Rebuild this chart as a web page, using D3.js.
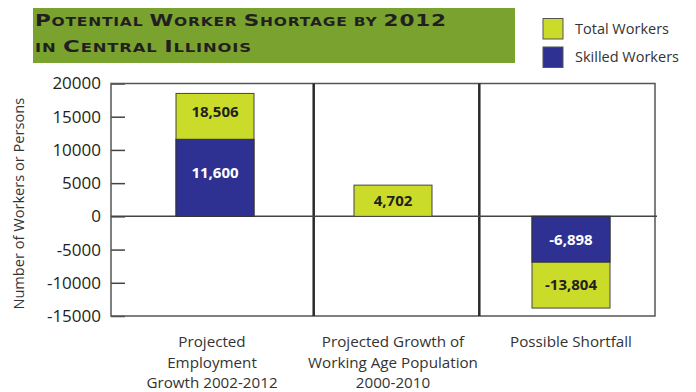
<!DOCTYPE html>
<html>
<head>
<meta charset="utf-8">
<script src="https://cdn.jsdelivr.net/npm/d3@7"></script>
<style>
  html, body { margin: 0; padding: 0; background: #fff; }
  svg { display: block; }
</style>
</head>
<body>
<svg id="chart" width="696" height="392"></svg>
<script>
// Chart data
const categories = ["employment", "population", "shortfall"];
const categoryLabels = [
  ["Projected", "Employment", "Growth 2002-2012"],
  ["Projected Growth of", "Working Age Population", "2000-2010"],
  ["Possible Shortfall"]
];
const totalWorkers = [18506, 4702, -13804];
const skilledWorkers = [11600, null, -6898];
const yTicks = [-15000, -10000, -5000, 0, 5000, 10000, 15000, 20000];
const seriesNames = ["Total Workers", "Skilled Workers"];
const titleLines = ["Potential Worker Shortage by 2012", "in Central Illinois"];
const yAxisTitle = "Number of Workers or Persons";

const colors = { total: "#cbdb2a", skilled: "#2e3192", band: "#79a22f" };
// plain hyphen for negatives
const locale = d3.formatLocale({ decimal: ".", thousands: ",", grouping: [3], currency: ["$", ""], minus: "-" });
const fmt = locale.format(",");
const fmtTick = locale.format("d");

const svg = d3.select("#chart");
const plot = { left: 111, right: 655, top: 83.5, bottom: 316 };
const sans = "'Open Sans', sans-serif";

const y = d3.scaleLinear().domain([-15000, 20000]).range([plot.bottom, plot.top]);
const x = d3.scalePoint().domain(categories).range([215, 571]);
const barW = 78;

// Title band with small-caps lettering
svg.append("rect").attr("x", 33).attr("y", 8).attr("width", 482).attr("height", 55)
  .attr("fill", colors.band);

const titleBig = 16.5;
const titleWidths = [412, 217];
const titleBase = [26.3, 51.7];
titleLines.forEach((line, i) => {
  const g = svg.append("g");
  const t = g.append("text")
    .attr("x", 0).attr("y", 0)
    .attr("font-family", "'DejaVu Sans', sans-serif").attr("font-weight", 700)
    .attr("letter-spacing", 0.6).attr("fill", "#231f20");
  const chunks = [];
  for (const ch of line) {
    const big = (ch === ch.toUpperCase() && ch !== ch.toLowerCase()) || /[0-9]/.test(ch);
    const last = chunks[chunks.length - 1];
    const kind = ch === " " ? (last ? last.big : true) : big;
    if (last && last.big === kind) last.s += ch; else chunks.push({ s: ch, big: kind });
  }
  chunks.forEach(c => {
    t.append("tspan")
      .attr("font-size", c.big ? titleBig : titleBig * 0.72)
      .text(c.s.toUpperCase());
  });
  // stretch horizontally to the extended lettering width
  const w = t.node().getComputedTextLength();
  g.attr("transform", `translate(35,${titleBase[i]}) scale(${titleWidths[i] / w},1)`);
});

// Legend
seriesNames.forEach((name, i) => {
  const ly = 18.5 + i * 28.5;
  svg.append("rect").attr("x", 543).attr("y", ly).attr("width", 20).attr("height", 20.5)
    .attr("fill", i === 0 ? colors.total : colors.skilled)
    .attr("stroke", "#555").attr("stroke-width", 1);
  svg.append("text").attr("x", 575).attr("y", ly + 15)
    .attr("font-family", sans).attr("font-size", 14.5)
    .attr("fill", "#333").text(name);
});

// Y axis with inward ticks
const yAxis = d3.axisLeft(y).tickValues(yTicks).tickSizeInner(-14).tickSizeOuter(0)
  .tickPadding(10).tickFormat(fmtTick);
const gAxis = svg.append("g").attr("transform", `translate(${plot.left},0)`).call(yAxis);
gAxis.select(".domain").remove();
gAxis.selectAll(".tick line").attr("stroke", "#444").attr("stroke-width", 1.5);
gAxis.selectAll(".tick text").attr("font-family", sans)
  .attr("font-size", 17).attr("fill", "#231f20");

svg.append("text")
  .attr("transform", `translate(24,${(plot.top + plot.bottom) / 2 + 4}) rotate(-90)`)
  .attr("text-anchor", "middle")
  .attr("font-family", sans).attr("font-size", 14.6)
  .attr("fill", "#333").text(yAxisTitle);

// Frame, panel dividers and zero line
svg.append("rect").attr("x", plot.left).attr("y", plot.top)
  .attr("width", plot.right - plot.left).attr("height", plot.bottom - plot.top)
  .attr("fill", "none").attr("stroke", "#555").attr("stroke-width", 1.5);
const dividers = [313.7, 479.3];
svg.selectAll(".divider").data(dividers).join("line")
  .attr("x1", d => d).attr("x2", d => d)
  .attr("y1", plot.top).attr("y2", plot.bottom)
  .attr("stroke", "#2a2a2a").attr("stroke-width", 2.5);
svg.append("line").attr("x1", plot.left).attr("x2", plot.right + 2)
  .attr("y1", y(0)).attr("y2", y(0)).attr("stroke", "#444").attr("stroke-width", 1.5);

// Bars: total workers behind, skilled workers over it from zero
const rows = categories.map((c, i) => ({ c, total: totalWorkers[i], skilled: skilledWorkers[i] }));
svg.selectAll(".bar-total").data(rows).join("rect")
  .attr("x", d => x(d.c) - barW / 2)
  .attr("y", d => y(Math.max(0, d.total)))
  .attr("width", barW)
  .attr("height", d => Math.abs(y(d.total) - y(0)))
  .attr("fill", colors.total).attr("stroke", "#444").attr("stroke-width", 1);
svg.selectAll(".bar-skilled").data(rows.filter(d => d.skilled != null)).join("rect")
  .attr("x", d => x(d.c) - barW / 2)
  .attr("y", d => y(Math.max(0, d.skilled)))
  .attr("width", barW)
  .attr("height", d => Math.abs(y(d.skilled) - y(0)))
  .attr("fill", colors.skilled).attr("stroke", "#333").attr("stroke-width", 1);

// Value labels in the middle of each segment
const labels = [];
rows.forEach(d => {
  const base = d.skilled != null ? d.skilled : 0;
  labels.push({ c: d.c, v: d.total, mid: (base + d.total) / 2, color: "#231f20" });
  if (d.skilled != null) labels.push({ c: d.c, v: d.skilled, mid: d.skilled / 2, color: "#fff" });
});
svg.selectAll(".val").data(labels).join("text")
  .attr("x", d => x(d.c))
  .attr("y", d => y(d.mid) - (d.v > 10000 ? 5 : 0))
  .attr("dy", "0.35em")
  .attr("text-anchor", "middle")
  .attr("font-family", sans).attr("font-weight", 700)
  .attr("font-size", 15).attr("fill", d => d.color)
  .text(d => fmt(d.v));

// Category labels
categories.forEach((c, i) => {
  const t = svg.append("text").attr("text-anchor", "middle")
    .attr("font-family", sans).attr("font-size", 15.2)
    .attr("fill", "#333");
  categoryLabels[i].forEach((line, j) => {
    t.append("tspan").attr("x", x(c) - (i === 0 ? 3 : 0)).attr("y", 347 + j * 20.5).text(line);
  });
});
</script>
</body>
</html>
